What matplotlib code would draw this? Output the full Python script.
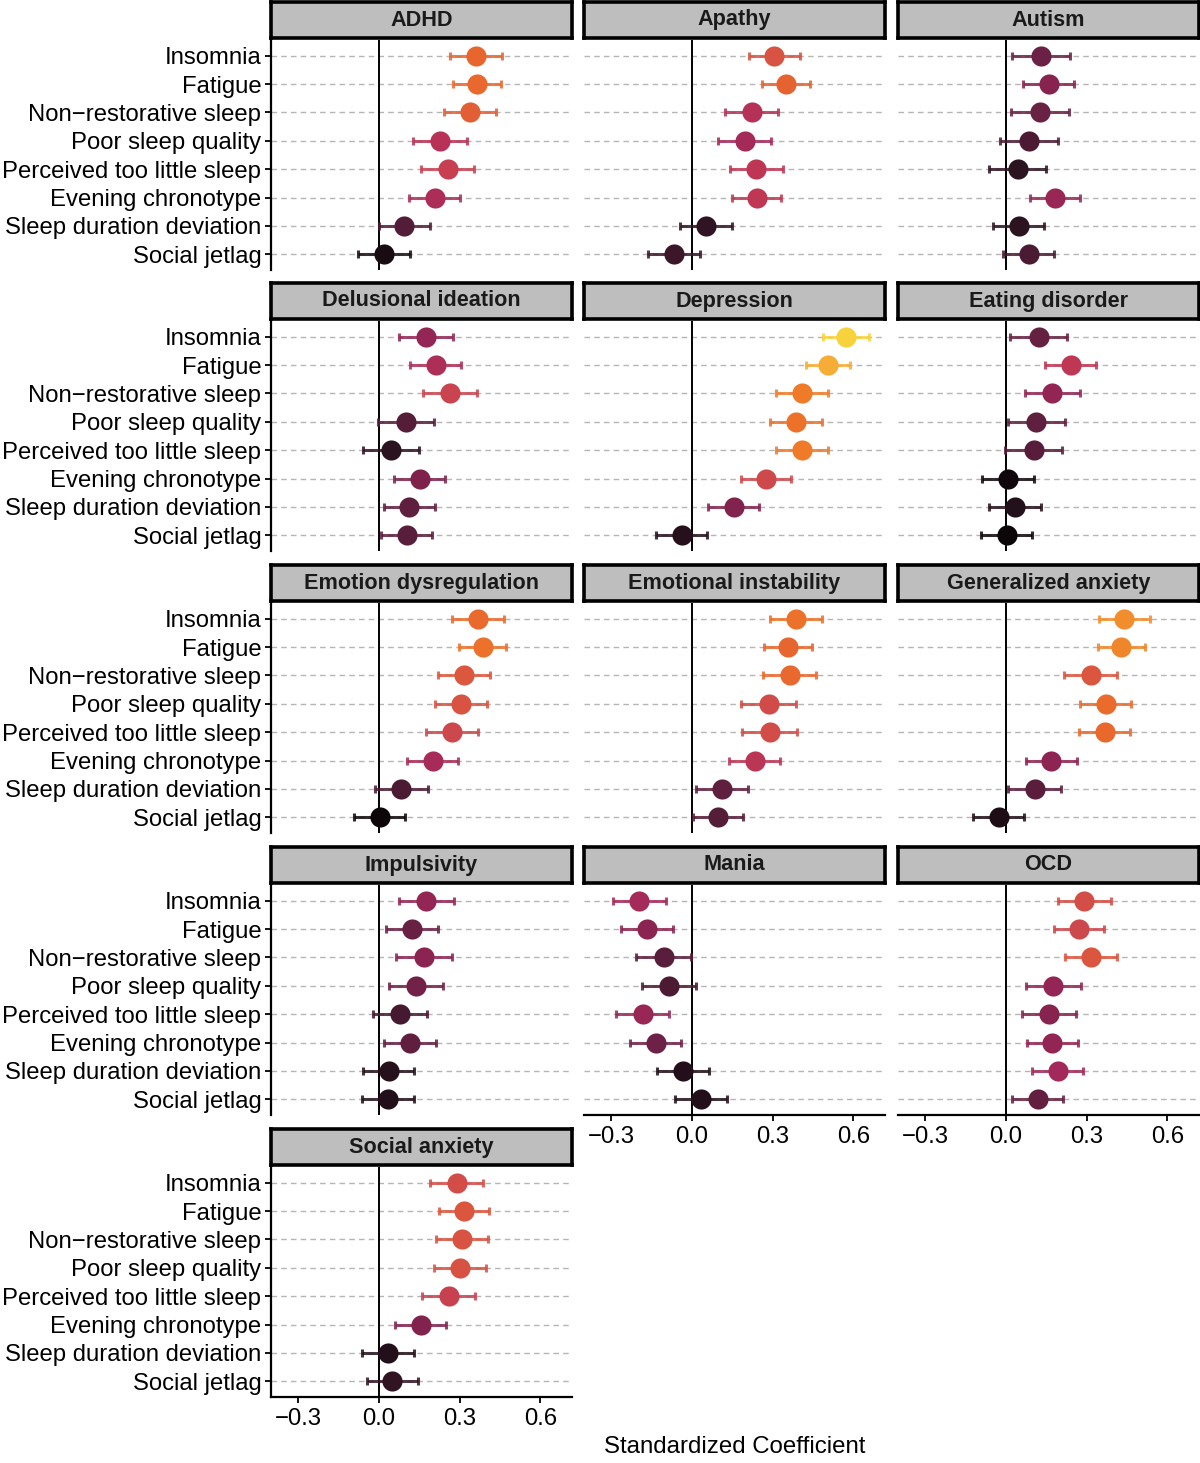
import numpy as np
import matplotlib.pyplot as plt
from matplotlib.colors import LinearSegmentedColormap, to_rgba

plt.rcParams['font.family'] = ['Liberation Sans', 'DejaVu Sans']

# sleep predictors, top to bottom
predictors = ['Insomnia', 'Fatigue', 'Non\u2212restorative sleep', 'Poor sleep quality',
              'Perceived too little sleep', 'Evening chronotype',
              'Sleep duration deviation', 'Social jetlag']

conditions = ['ADHD', 'Apathy', 'Autism', 'Delusional ideation', 'Depression',
              'Eating disorder', 'Emotion dysregulation', 'Emotional instability',
              'Generalized anxiety', 'Impulsivity', 'Mania', 'OCD', 'Social anxiety']

# standardized coefficients and 95% CI half widths, same order as predictors
adhd = [0.360, 0.364, 0.340, 0.228, 0.256, 0.208, 0.095, 0.020]
adhd_ci = [0.096, 0.090, 0.097, 0.100, 0.098, 0.095, 0.095, 0.096]
apathy = [0.307, 0.351, 0.223, 0.197, 0.239, 0.241, 0.053, -0.066]
apathy_ci = [0.096, 0.089, 0.098, 0.098, 0.099, 0.090, 0.096, 0.096]
autism = [0.129, 0.160, 0.127, 0.087, 0.045, 0.182, 0.047, 0.085]
autism_ci = [0.108, 0.095, 0.108, 0.108, 0.106, 0.094, 0.095, 0.095]
delusional = [0.175, 0.212, 0.263, 0.100, 0.045, 0.152, 0.113, 0.104]
delusional_ci = [0.101, 0.095, 0.100, 0.105, 0.105, 0.094, 0.095, 0.095]
depression = [0.574, 0.507, 0.410, 0.388, 0.410, 0.276, 0.155, -0.037]
depression_ci = [0.085, 0.082, 0.096, 0.096, 0.096, 0.093, 0.096, 0.095]
eating = [0.122, 0.241, 0.173, 0.113, 0.103, 0.007, 0.034, 0.003]
eating_ci = [0.105, 0.094, 0.103, 0.106, 0.105, 0.096, 0.097, 0.095]
emo_dysreg = [0.369, 0.386, 0.318, 0.305, 0.272, 0.201, 0.084, 0.003]
emo_dysreg_ci = [0.097, 0.088, 0.097, 0.098, 0.098, 0.095, 0.097, 0.096]
emo_instab = [0.386, 0.358, 0.364, 0.285, 0.289, 0.234, 0.113, 0.097]
emo_instab_ci = [0.097, 0.090, 0.098, 0.101, 0.101, 0.095, 0.097, 0.094]
gen_anxiety = [0.440, 0.429, 0.316, 0.371, 0.367, 0.169, 0.107, -0.027]
gen_anxiety_ci = [0.095, 0.088, 0.099, 0.096, 0.096, 0.096, 0.098, 0.096]
impulsivity = [0.177, 0.124, 0.168, 0.137, 0.078, 0.115, 0.036, 0.033]
impulsivity_ci = [0.103, 0.097, 0.103, 0.101, 0.101, 0.096, 0.096, 0.096]
mania = [-0.196, -0.167, -0.105, -0.086, -0.183, -0.134, -0.033, 0.033]
mania_ci = [0.099, 0.097, 0.101, 0.100, 0.099, 0.095, 0.096, 0.096]
ocd = [0.292, 0.272, 0.316, 0.177, 0.160, 0.173, 0.193, 0.118]
ocd_ci = [0.099, 0.092, 0.098, 0.103, 0.101, 0.095, 0.094, 0.095]
social_anx = [0.289, 0.316, 0.309, 0.303, 0.259, 0.155, 0.033, 0.050]
social_anx_ci = [0.098, 0.092, 0.097, 0.097, 0.097, 0.094, 0.096, 0.095]

estimates = [adhd, apathy, autism, delusional, depression, eating, emo_dysreg,
             emo_instab, gen_anxiety, impulsivity, mania, ocd, social_anx]
cis = [adhd_ci, apathy_ci, autism_ci, delusional_ci, depression_ci, eating_ci,
       emo_dysreg_ci, emo_instab_ci, gen_anxiety_ci, impulsivity_ci, mania_ci,
       ocd_ci, social_anx_ci]

# colour by |coefficient|
vmax = 0.574
anchors = [(0.00, '#0b0508'), (0.045, '#2c1320'), (0.09, '#4f1c35'), (0.13, '#6c2146'),
           (0.16, '#86234f'), (0.19, '#a02859'), (0.23, '#b93356'), (0.27, '#cc474e'),
           (0.31, '#d95440'), (0.36, '#e8662e'), (0.40, '#ee7628'), (0.44, '#f18c2c'),
           (0.51, '#f6ae35'), (0.574, '#f8d23d')]
cmap = LinearSegmentedColormap.from_list('sleep', [(v / vmax, c) for v, c in anchors])

W, H = 1200, 1463
fig = plt.figure(figsize=(W / 100, H / 100), dpi=100)


def px_axes(left, top, w, h):
    return fig.add_axes([left / W, 1 - (top + h) / H, w / W, h / H])


col_left = [271, 584, 898]
row_top = [40, 321, 603, 885, 1167]
pw, ph = 301, 230
ypos = np.arange(len(predictors))[::-1] + 1
bottom_panels = {'Mania', 'OCD', 'Social anxiety'}

for k, name in enumerate(conditions):
    r, c = divmod(k, 3)
    ax = px_axes(col_left[c], row_top[r], pw, ph)
    est = np.array(estimates[k])
    ci = np.array(cis[k])

    ax.set_xlim(-0.401, 0.718)
    ax.set_ylim(0.45, 8.55)
    for y in ypos:
        ax.axhline(y, color='#b5b5b5', lw=1.0, ls=(0, (4, 3)), zorder=0)
    ax.axvline(0, color='black', lw=1.4, zorder=1)

    for e, h, y in zip(est, ci, ypos):
        col = cmap(min(abs(e) / vmax, 1.0))
        ax.errorbar(e, y, xerr=h, fmt='none', ecolor=to_rgba(col, 0.85),
                    elinewidth=2.2, capsize=3.2, capthick=2.2, zorder=2)
        ax.plot(e, y, 'o', ms=14.5, color=col, mec='none', zorder=3)

    for s in ['top', 'right']:
        ax.spines[s].set_visible(False)
    ax.spines['left'].set_visible(c == 0)
    ax.spines['left'].set_linewidth(1.6)
    ax.spines['bottom'].set_visible(name in bottom_panels)
    ax.spines['bottom'].set_linewidth(1.6)

    if c == 0:
        ax.set_yticks(ypos)
        ax.set_yticklabels(predictors, fontsize=17.2, color='black')
        ax.tick_params(axis='y', length=4, width=1.3, pad=3)
    else:
        ax.set_yticks([])

    ax.set_xticks([-0.3, 0.0, 0.3, 0.6])
    if name in bottom_panels:
        ax.set_xticklabels(['\u22120.3', '0.0', '0.3', '0.6'], fontsize=17.2)
        ax.tick_params(axis='x', length=4, width=1.3, pad=4)
    else:
        ax.tick_params(axis='x', length=0, labelbottom=False)

    # facet strip
    sx = px_axes(col_left[c], row_top[r] - 38, pw, 36)
    sx.set_facecolor('#bebebe')
    sx.set_xticks([])
    sx.set_yticks([])
    for s in sx.spines.values():
        s.set_linewidth(2.6)
        s.set_color('black')
    sx.text(0.5, 0.5, name, ha='center', va='center', fontsize=15.6,
            fontweight='bold', color='#1a1a1a', transform=sx.transAxes)

fig.text(735 / W, 1 - 1447 / H, 'Standardized Coefficient', ha='center', va='center',
         fontsize=17.3)

fig.savefig('out.png', dpi=100, facecolor='white')
